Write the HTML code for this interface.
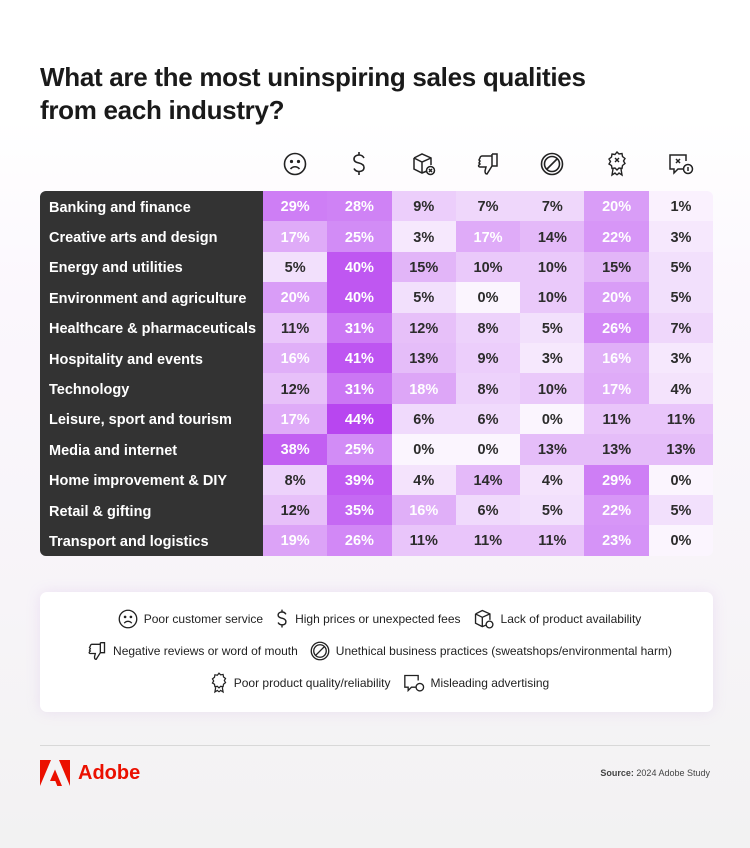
<!DOCTYPE html>
<html><head><meta charset="utf-8"><style>
*{margin:0;padding:0;box-sizing:border-box}
body{width:750px;height:848px;overflow:hidden;font-family:"Liberation Sans",sans-serif;background:linear-gradient(#fff 0,#fff 120px,#fbf7fd 300px,#f7f4f8 600px,#f2f2f2 848px);position:relative;color:#2c2c2c}
h1{position:absolute;left:40px;top:61px;font-size:26px;line-height:33px;font-weight:bold;color:#1a1a1a;letter-spacing:-0.3px}
.icons{position:absolute;left:263px;top:150px;width:450px;display:flex}
.icons div{width:64.3px;height:28px;display:flex;justify-content:center;align-items:center}
table{position:absolute;left:40px;top:191px;border-collapse:collapse;border-radius:6px;overflow:hidden}
td{height:30.4px;padding:0;font-size:14.5px;font-weight:bold;text-align:center}
td.l{width:223px;background:#333;color:#fff;text-align:left;padding-left:9px;padding-top:3px;font-size:14.5px}
td.c{width:64.3px;position:relative;background:#fbf5fe;padding-top:2px}
td.c::before{content:"";position:absolute;inset:0;background:#b846f0;opacity:var(--o)}
td.c span{position:relative}
td.w{color:#fff}
.legend{position:absolute;left:40px;top:592px;width:673px;height:120px;background:#fff;border-radius:7px;box-shadow:0 0 14px rgba(190,140,220,.18);font-size:12px;color:#222}
.lr{position:absolute;left:0;width:100%;display:flex;justify-content:center;align-items:center;gap:6px}
.lr svg{margin-left:6px}
.line{position:absolute;left:40px;top:745px;width:670px;height:1px;background:#d8d8d8}
.adobe{position:absolute;left:40px;top:760px;display:flex;align-items:center;gap:8px;color:#eb1000;font-weight:bold;font-size:20px}
.src{position:absolute;right:40px;top:768px;font-size:9px;color:#444}
</style></head><body>
<h1>What are the most uninspiring sales qualities<br>from each industry?</h1>
<div class="icons">
<div><svg width="24" height="24" viewBox="0 0 24 24" fill="none" stroke="#222" stroke-width="1.6"><circle cx="12" cy="12" r="10.5"/><circle cx="8.5" cy="9.5" r=".8" fill="#222"/><circle cx="15.5" cy="9.5" r=".8" fill="#222"/><path d="M7.5 17c2.5-3 6.5-3 9 0"/></svg></div>
<div><svg width="18" height="26" viewBox="0 0 18 26" fill="none" stroke="#222" stroke-width="1.6"><path d="M14 7c-1-2-3-3-5-3S4 5 4 8s3 3.5 5 4 5 1.5 5 4.5-2.5 4-5 4-4-1-5-3M9 1v3M9 20.5v3.5"/></svg></div>
<div><svg width="26" height="26" viewBox="0 0 26 26" fill="none" stroke="#222" stroke-width="1.5"><path d="M3 7l8-4 9 4v7M3 7v11l8 4 5-2M3 7l8 4 9-4M11 11v11"/><circle cx="19.5" cy="19.5" r="4"/><path d="M18 18l3 3M21 18l-3 3"/></svg></div>
<div><svg width="24" height="26" viewBox="0 0 24 26" fill="none" stroke="#222" stroke-width="1.5"><path d="M16 3v12M16 3h5v12h-5M16 15l-5 8c-2 0-2-2-2-3l1-4H4c-1 0-2-1-1-2l1-1-1-1 1-2-1-1 1-2c0-1 1-2 2-2h10"/></svg></div>
<div><svg width="24" height="24" viewBox="0 0 24 24" fill="none" stroke="#222" stroke-width="1.6"><circle cx="12" cy="12" r="10.5"/><circle cx="12" cy="12" r="7.5"/><path d="M7 17L17 7"/></svg></div>
<div><svg width="22" height="26" viewBox="0 0 22 26" fill="none" stroke="#222" stroke-width="1.4"><path d="M11 1l2 2 3-.5.5 3 2.5 2-1.5 2.5 1.5 2.5-2.5 2-.5 3-3-.5-2 2-2-2-3 .5-.5-3L3 13l1.5-2.5L3 8l2.5-2L6 3l3 .5z"/><path d="M9 7l4 4M13 7l-4 4M7 18l-1 6 3-2 2 2M15 18l1 6-3-2-2 2"/></svg></div>
<div><svg width="26" height="24" viewBox="0 0 26 24" fill="none" stroke="#222" stroke-width="1.5"><path d="M18 9V3H2v14h4v4l4-4h5"/><path d="M8 7l4 4M12 7l-4 4"/><circle cx="20" cy="17" r="4.5"/><path d="M20 15v4"/></svg></div>
</div>
<table>
<tr><td class="l">Banking and finance</td><td class="c w" style="--o:.68"><span>29%</span></td><td class="c w" style="--o:.66"><span>28%</span></td><td class="c" style="--o:.22"><span>9%</span></td><td class="c" style="--o:.17"><span>7%</span></td><td class="c" style="--o:.17"><span>7%</span></td><td class="c w" style="--o:.5"><span>20%</span></td><td class="c" style="--o:.02"><span>1%</span></td></tr>
<tr><td class="l">Creative arts and design</td><td class="c w" style="--o:.42"><span>17%</span></td><td class="c w" style="--o:.6"><span>25%</span></td><td class="c" style="--o:.07"><span>3%</span></td><td class="c w" style="--o:.42"><span>17%</span></td><td class="c" style="--o:.34"><span>14%</span></td><td class="c w" style="--o:.54"><span>22%</span></td><td class="c" style="--o:.07"><span>3%</span></td></tr>
<tr><td class="l">Energy and utilities</td><td class="c" style="--o:.12"><span>5%</span></td><td class="c w" style="--o:.9"><span>40%</span></td><td class="c" style="--o:.37"><span>15%</span></td><td class="c" style="--o:.25"><span>10%</span></td><td class="c" style="--o:.25"><span>10%</span></td><td class="c" style="--o:.37"><span>15%</span></td><td class="c" style="--o:.12"><span>5%</span></td></tr>
<tr><td class="l">Environment and agriculture</td><td class="c w" style="--o:.5"><span>20%</span></td><td class="c w" style="--o:.9"><span>40%</span></td><td class="c" style="--o:.12"><span>5%</span></td><td class="c" style="--o:0"><span>0%</span></td><td class="c" style="--o:.25"><span>10%</span></td><td class="c w" style="--o:.5"><span>20%</span></td><td class="c" style="--o:.12"><span>5%</span></td></tr>
<tr><td class="l">Healthcare &amp; pharmaceuticals</td><td class="c" style="--o:.27"><span>11%</span></td><td class="c w" style="--o:.72"><span>31%</span></td><td class="c" style="--o:.3"><span>12%</span></td><td class="c" style="--o:.2"><span>8%</span></td><td class="c" style="--o:.12"><span>5%</span></td><td class="c w" style="--o:.62"><span>26%</span></td><td class="c" style="--o:.17"><span>7%</span></td></tr>
<tr><td class="l">Hospitality and events</td><td class="c w" style="--o:.4"><span>16%</span></td><td class="c w" style="--o:.92"><span>41%</span></td><td class="c" style="--o:.32"><span>13%</span></td><td class="c" style="--o:.22"><span>9%</span></td><td class="c" style="--o:.07"><span>3%</span></td><td class="c w" style="--o:.4"><span>16%</span></td><td class="c" style="--o:.07"><span>3%</span></td></tr>
<tr><td class="l">Technology</td><td class="c" style="--o:.3"><span>12%</span></td><td class="c w" style="--o:.72"><span>31%</span></td><td class="c w" style="--o:.45"><span>18%</span></td><td class="c" style="--o:.2"><span>8%</span></td><td class="c" style="--o:.25"><span>10%</span></td><td class="c w" style="--o:.42"><span>17%</span></td><td class="c" style="--o:.1"><span>4%</span></td></tr>
<tr><td class="l">Leisure, sport and tourism</td><td class="c w" style="--o:.42"><span>17%</span></td><td class="c w" style="--o:1"><span>44%</span></td><td class="c" style="--o:.15"><span>6%</span></td><td class="c" style="--o:.15"><span>6%</span></td><td class="c" style="--o:0"><span>0%</span></td><td class="c" style="--o:.27"><span>11%</span></td><td class="c" style="--o:.27"><span>11%</span></td></tr>
<tr><td class="l">Media and internet</td><td class="c w" style="--o:.86"><span>38%</span></td><td class="c w" style="--o:.6"><span>25%</span></td><td class="c" style="--o:0"><span>0%</span></td><td class="c" style="--o:0"><span>0%</span></td><td class="c" style="--o:.32"><span>13%</span></td><td class="c" style="--o:.32"><span>13%</span></td><td class="c" style="--o:.32"><span>13%</span></td></tr>
<tr><td class="l">Home improvement &amp; DIY</td><td class="c" style="--o:.2"><span>8%</span></td><td class="c w" style="--o:.88"><span>39%</span></td><td class="c" style="--o:.1"><span>4%</span></td><td class="c" style="--o:.34"><span>14%</span></td><td class="c" style="--o:.1"><span>4%</span></td><td class="c w" style="--o:.68"><span>29%</span></td><td class="c" style="--o:0"><span>0%</span></td></tr>
<tr><td class="l">Retail &amp; gifting</td><td class="c" style="--o:.3"><span>12%</span></td><td class="c w" style="--o:.8"><span>35%</span></td><td class="c w" style="--o:.4"><span>16%</span></td><td class="c" style="--o:.15"><span>6%</span></td><td class="c" style="--o:.12"><span>5%</span></td><td class="c w" style="--o:.54"><span>22%</span></td><td class="c" style="--o:.12"><span>5%</span></td></tr>
<tr><td class="l">Transport and logistics</td><td class="c w" style="--o:.47"><span>19%</span></td><td class="c w" style="--o:.62"><span>26%</span></td><td class="c" style="--o:.27"><span>11%</span></td><td class="c" style="--o:.27"><span>11%</span></td><td class="c" style="--o:.27"><span>11%</span></td><td class="c w" style="--o:.56"><span>23%</span></td><td class="c" style="--o:0"><span>0%</span></td></tr>
</table>
<div class="legend">
<div class="lr" style="top:16px"><svg width="20" height="20" viewBox="0 0 24 24" fill="none" stroke="#222" stroke-width="1.6"><circle cx="12" cy="12" r="10.5"/><path d="M7.5 17c2.5-3 6.5-3 9 0"/><circle cx="8.5" cy="9.5" r=".8" fill="#222"/><circle cx="15.5" cy="9.5" r=".8" fill="#222"/></svg>Poor customer service<svg width="14" height="22" viewBox="0 0 18 26" fill="none" stroke="#222" stroke-width="1.8"><path d="M14 7c-1-2-3-3-5-3S4 5 4 8s3 3.5 5 4 5 1.5 5 4.5-2.5 4-5 4-4-1-5-3M9 1v3M9 20.5v3.5"/></svg>High prices or unexpected fees<svg width="22" height="22" viewBox="0 0 26 26" fill="none" stroke="#222" stroke-width="1.6"><path d="M3 7l8-4 9 4v7M3 7v11l8 4 5-2M3 7l8 4 9-4M11 11v11"/><circle cx="19.5" cy="19.5" r="4"/></svg>Lack of product availability</div>
<div class="lr" style="top:48px"><svg width="20" height="22" viewBox="0 0 24 26" fill="none" stroke="#222" stroke-width="1.6"><path d="M16 3v12M16 3h5v12h-5M16 15l-5 8c-2 0-2-2-2-3l1-4H4c-1 0-2-1-1-2l1-1-1-1 1-2-1-1 1-2c0-1 1-2 2-2h10"/></svg>Negative reviews or word of mouth<svg width="20" height="20" viewBox="0 0 24 24" fill="none" stroke="#222" stroke-width="1.6"><circle cx="12" cy="12" r="10.5"/><circle cx="12" cy="12" r="7.5"/><path d="M7 17L17 7"/></svg>Unethical business practices (sweatshops/environmental harm)</div>
<div class="lr" style="top:80px"><svg width="18" height="22" viewBox="0 0 22 26" fill="none" stroke="#222" stroke-width="1.5"><path d="M11 1l2 2 3-.5.5 3 2.5 2-1.5 2.5 1.5 2.5-2.5 2-.5 3-3-.5-2 2-2-2-3 .5-.5-3L3 13l1.5-2.5L3 8l2.5-2L6 3l3 .5z"/><path d="M7 18l-1 6 3-2 2 2M15 18l1 6-3-2-2 2"/></svg>Poor product quality/reliability<svg width="22" height="20" viewBox="0 0 26 24" fill="none" stroke="#222" stroke-width="1.6"><path d="M18 9V3H2v14h4v4l4-4h5"/><circle cx="20" cy="17" r="4.5"/></svg>Misleading advertising</div>
</div>
<div class="line"></div>
<div class="adobe"><svg width="30" height="26" viewBox="0 0 30 26"><path d="M0 0h11L0 26zM19 0h11v26zM15 9.5l7 16.5h-4.7l-2-5H10z" fill="#eb1000"/></svg>Adobe</div>
<div class="src"><b>Source:</b> 2024 Adobe Study</div>
</body></html>
